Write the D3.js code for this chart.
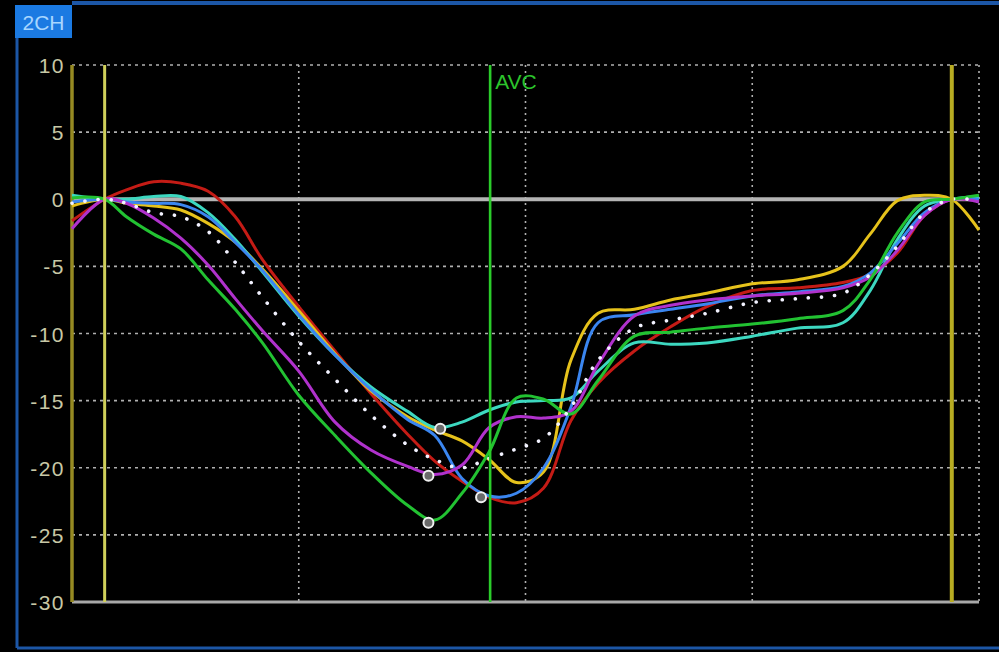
<!DOCTYPE html>
<html><head><meta charset="utf-8">
<script src="https://cdn.jsdelivr.net/npm/d3@7"></script>
<style>html,body{margin:0;padding:0;background:#000;overflow:hidden}</style>
</head><body><div id="chart"></div>
<script>
// ---- data (time in % of cycle, strain in %) ----
const times = [0,3.6,6,9,12,15,18,21,25,29,33,37,40,43,46,49,52,55,58,62,66,70,75,80,85,88,91,94,97,100];
const redValues = [-1.6,0,0.7,1.3,1.2,0.6,-1.3,-4.5,-8.0,-11.3,-14.5,-17.5,-19.5,-21.0,-22.2,-22.6,-21.5,-16.5,-13.7,-11.3,-9.5,-8.0,-6.8,-6.6,-6.2,-5.6,-4.0,-1.2,0,-0.1];
const yellowValues = [-0.5,0,-0.3,-0.5,-0.8,-1.8,-3.2,-5.2,-8.3,-11.5,-14.3,-16.2,-17.2,-18.0,-19.4,-21.1,-20.3,-12.0,-8.5,-8.2,-7.5,-7.0,-6.3,-6.0,-5.0,-2.6,-0.1,0.3,0,-2.3];
const turquoiseValues = [0.3,0,0,0.2,0.2,-1.0,-3.0,-5.4,-8.7,-11.6,-14.0,-15.8,-17.0,-16.6,-15.7,-15.1,-15.0,-14.8,-12.8,-10.7,-10.8,-10.7,-10.2,-9.6,-9.2,-6.8,-3.0,-0.5,0,0.2];
const blueValues = [-0.2,0,-0.2,-0.3,-0.4,-1.3,-3.2,-5.3,-8.6,-11.6,-14.2,-16.4,-17.6,-20.8,-22.1,-21.9,-20.0,-15.5,-9.2,-8.6,-8.2,-7.8,-7.2,-6.9,-6.5,-5.5,-3.3,-1.0,0,0];
const magentaValues = [-2.2,0,-0.3,-1.4,-2.9,-4.9,-7.4,-9.8,-12.8,-16.6,-18.7,-19.9,-20.5,-19.8,-17.0,-16.2,-16.3,-15.8,-12.3,-8.7,-7.9,-7.5,-7.2,-7.0,-6.6,-5.8,-3.8,-1.2,0,-0.2];
const greenValues = [0.1,0,-1.3,-2.6,-3.7,-6.0,-8.2,-10.7,-14.6,-17.6,-20.4,-22.8,-23.9,-21.9,-18.8,-14.8,-14.9,-16.0,-13.5,-10.2,-9.9,-9.6,-9.3,-8.9,-8.3,-6.0,-2.5,-0.2,0,0.3];
const averageValues = [-0.3,0,-0.3,-1.0,-1.3,-2.4,-4.7,-7.3,-10.6,-13.4,-16.1,-18.3,-19.4,-20.0,-19.3,-18.6,-17.8,-15.5,-12.0,-9.6,-9.0,-8.5,-7.7,-7.4,-7.0,-5.6,-3.5,-1.0,0,-0.1];

const seriesNames = ["red","yellow","turquoise","blue","magenta","green"];
const seriesColors = ["#c41a14","#e6c21a","#3cd8c0","#3a86f0","#b030cc","#22c232"];
const seriesValues = [redValues,yellowValues,turquoiseValues,blueValues,magentaValues,greenValues];

const markerTimes = [39.3,39.3,40.6,45.1];
const markerValues = [-24.1,-20.6,-17.1,-22.2];

const yTicks = [10,5,0,-5,-10,-15,-20,-25,-30];
const xGrid = [25,50,75,100];
const leftMarkers = [0,3.6];   // boundary lines (yellow)
const rightMarker = 97;
const avcTime = 46.1;
const viewLabel = "2CH";
const avcLabel = "AVC";

// ---- drawing ----
const W = 999, H = 652;
const svg = d3.select("#chart").append("svg").attr("width", W).attr("height", H)
  .style("background","#000");
const defs = svg.append("defs");
defs.append("filter").attr("id","soft").append("feGaussianBlur").attr("stdDeviation",0.7);

const x = d3.scaleLinear().domain([0,100]).range([72,979]);
const y = d3.scaleLinear().domain([-30,10]).range([602,65]);

// outer frame
svg.append("line").attr("x1",72).attr("x2",999).attr("y1",3).attr("y2",3).attr("stroke","#1c56a6").attr("stroke-width",4);
svg.append("line").attr("x1",17).attr("x2",17).attr("y1",36).attr("y2",648).attr("stroke","#1c56a6").attr("stroke-width",3);
svg.append("line").attr("x1",17).attr("x2",999).attr("y1",648).attr("y2",648).attr("stroke","#1c56a6").attr("stroke-width",3);
svg.append("rect").attr("x",15).attr("y",5).attr("width",57).attr("height",33).attr("fill","#1b7ae2");
svg.append("text").attr("x",43.5).attr("y",30).attr("text-anchor","middle")
  .attr("font-family","Liberation Sans, Arial, sans-serif").attr("font-size",21)
  .attr("fill","#a8d6ff").text(viewLabel);

const g = svg.append("g").attr("filter","url(#soft)");

// horizontal grid
g.selectAll(".hg").data(yTicks.filter(d => d !== 0 && d !== -30)).enter().append("line")
  .attr("x1",x(0)).attr("x2",x(100)).attr("y1",d=>y(d)).attr("y2",d=>y(d))
  .attr("stroke","#b0b0b0").attr("stroke-width",1.6).attr("stroke-dasharray","3,4");
// vertical grid
g.selectAll(".vg").data(xGrid).enter().append("line")
  .attr("x1",d=>x(d)).attr("x2",d=>x(d)).attr("y1",y(10)).attr("y2",y(-30))
  .attr("stroke","#b0b0b0").attr("stroke-width",1.6).attr("stroke-dasharray","2,4");
// zero & bottom lines
g.append("line").attr("x1",x(0)).attr("x2",x(100)).attr("y1",y(0)).attr("y2",y(0))
  .attr("stroke","#b4b4b4").attr("stroke-width",4);
g.append("line").attr("x1",x(0)).attr("x2",x(100)).attr("y1",y(-30)).attr("y2",y(-30))
  .attr("stroke","#a8a8a8").attr("stroke-width",3);

// y axis labels
const yAxis = d3.axisLeft(y).tickValues(yTicks).tickSize(0).tickPadding(0).tickFormat(d => String(d));
const ax = svg.append("g").attr("transform","translate(65,0)").call(yAxis);
ax.select(".domain").remove();
ax.selectAll("text").attr("fill","#c8c8a6").attr("font-size",21)
  .attr("font-family","Liberation Sans, Arial, sans-serif").attr("letter-spacing","1.5px")
  .attr("dy","0.36em");

// yellow boundary line (left, darker)
g.append("line").attr("x1",x(leftMarkers[0])).attr("x2",x(leftMarkers[0])).attr("y1",y(10)).attr("y2",y(-30))
  .attr("stroke","#968a22").attr("stroke-width",3.5);

// curves
const line = d3.line().x((d,i)=>x(times[i])).y(d=>y(d)).curve(d3.curveCatmullRom.alpha(0.5));
g.selectAll(".curve").data(seriesValues).enter().append("path")
  .attr("d",d=>line(d)).attr("fill","none")
  .attr("stroke",(d,i)=>seriesColors[i]).attr("stroke-width",3).attr("stroke-linejoin","round");
// average dotted
g.append("path").attr("d",line(averageValues)).attr("fill","none")
  .attr("stroke","#f2f2ff").attr("stroke-width",3.6).attr("stroke-linecap","round")
  .attr("stroke-dasharray","0.1,13");

g.append("line").attr("x1",x(leftMarkers[1])).attr("x2",x(leftMarkers[1])).attr("y1",y(10)).attr("y2",y(-30))
  .attr("stroke","#cfcf5a").attr("stroke-width",3);
g.append("line").attr("x1",x(rightMarker)).attr("x2",x(rightMarker)).attr("y1",y(10)).attr("y2",y(-30))
  .attr("stroke","#b8ac22").attr("stroke-width",4);

// AVC
g.append("line").attr("x1",x(avcTime)).attr("x2",x(avcTime)).attr("y1",y(10)).attr("y2",y(-30))
  .attr("stroke","#2ccc2c").attr("stroke-width",2.6);
svg.append("text").attr("x",x(avcTime)+5).attr("y",y(10)+24)
  .attr("font-family","Liberation Sans, Arial, sans-serif").attr("font-size",21)
  .attr("fill","#2cc42c").text(avcLabel);

// peak markers
g.selectAll(".mk").data(markerTimes).enter().append("circle")
  .attr("cx",d=>x(d)).attr("cy",(d,i)=>y(markerValues[i])).attr("r",5)
  .attr("fill","#6a6a6a").attr("stroke","#f0f0f0").attr("stroke-width",2);
</script></body></html>
